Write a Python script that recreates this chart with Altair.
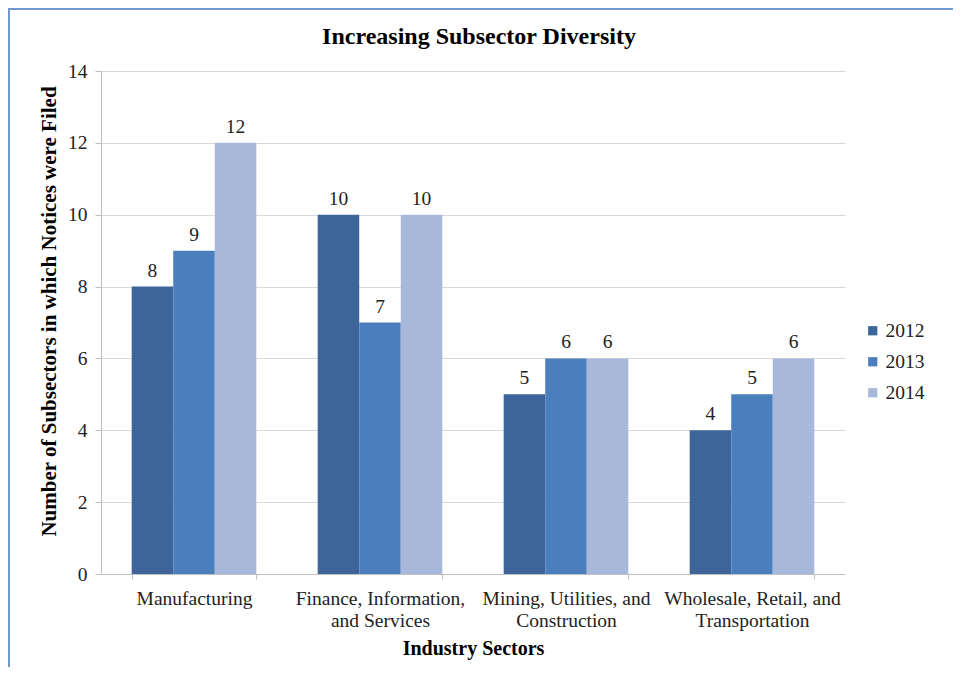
import altair as alt
import pandas as pd

categories = [
    "Manufacturing",
    "Finance, Information,\nand Services",
    "Mining, Utilities, and\nConstruction",
    "Wholesale, Retail, and\nTransportation",
]
years = ["2012", "2013", "2014"]
v2012 = [8, 10, 5, 4]
v2013 = [9, 7, 6, 5]
v2014 = [12, 10, 6, 6]
colors = ["#3D659A", "#4B7EBC", "#A7B8DA"]

rows = []
for yr, vals in zip(years, [v2012, v2013, v2014]):
    for c, v in zip(categories, vals):
        rows.append({"sector": c, "year": yr, "value": v})
df = pd.DataFrame(rows)

FONT = "Liberation Serif"

x = alt.X(
    "sector:N",
    sort=categories,
    scale=alt.Scale(paddingInner=0.33, paddingOuter=0.165),
    axis=alt.Axis(
        title="Industry  Sectors",
        titleFont=FONT, titleFontSize=20, titleFontWeight="bold", titleColor="#000",
        titlePadding=9,
        labelExpr="split(datum.label, '\\n')",
        labelFont=FONT, labelFontSize=19.5, labelColor="#222", labelLineHeight=22,
        labelPadding=10, labelAngle=0,
        tickBand="extent", tickColor="#BFBFBF", tickSize=5,
        domainColor="#BFBFBF", grid=False,
    ),
)
y = alt.Y(
    "value:Q",
    scale=alt.Scale(domain=[0, 14]),
    axis=alt.Axis(
        values=[0, 2, 4, 6, 8, 10, 12, 14],
        title="Number  of  Subsectors  in which  Notices  were  Filed",
        titleFont=FONT, titleFontSize=21, titleFontWeight="bold", titleColor="#000",
        titlePadding=8, titleY=240,
        labelFont=FONT, labelFontSize=19.5, labelColor="#222", labelPadding=8,
        tickColor="#BFBFBF", tickSize=6, domainColor="#BFBFBF",
        gridColor="#D9D9D9",
    ),
)
color = alt.Color(
    "year:N",
    scale=alt.Scale(domain=years, range=colors),
    legend=alt.Legend(
        title=None, orient="none", legendX=762, legendY=250,
        symbolType="square", symbolSize=85, symbolStrokeWidth=0,
        labelFont=FONT, labelFontSize=19.5, labelColor="#222",
        rowPadding=10, labelOffset=3,
    ),
)

bars = alt.Chart(df).mark_bar().encode(
    x=x, y=y, xOffset=alt.XOffset("year:N", sort=years), color=color
)
labels = alt.Chart(df).mark_text(
    font=FONT, fontSize=19.5, color="#222", baseline="bottom", dy=-6
).encode(
    x=alt.X("sector:N", sort=categories),
    xOffset=alt.XOffset("year:N", sort=years),
    y="value:Q",
    text="value:Q",
)

frame_top = alt.Chart(df).mark_rule(color="#7099D2", strokeWidth=2).encode(
    x=alt.value(-93), x2=alt.value(852), y=alt.value(-62)
)
frame_left = alt.Chart(df).mark_rule(color="#7099D2", strokeWidth=2).encode(
    x=alt.value(-92), y=alt.value(-63), y2=alt.value(600)
)

chart = alt.layer(bars, labels, frame_top, frame_left).properties(
    width=744,
    height=503,
    title=alt.TitleParams(
        "Increasing Subsector Diversity",
        font=FONT, fontSize=24, fontWeight="bold", color="#000",
        anchor="middle", offset=0, dy=42, dx=6,
    ),
    autosize=alt.AutoSizeParams(type="none"),
    padding={"left": 93, "top": 63, "right": 108, "bottom": 93},
).configure_view(stroke=None)

chart.save("out.html", embed_options={"renderer": "svg", "actions": False})
